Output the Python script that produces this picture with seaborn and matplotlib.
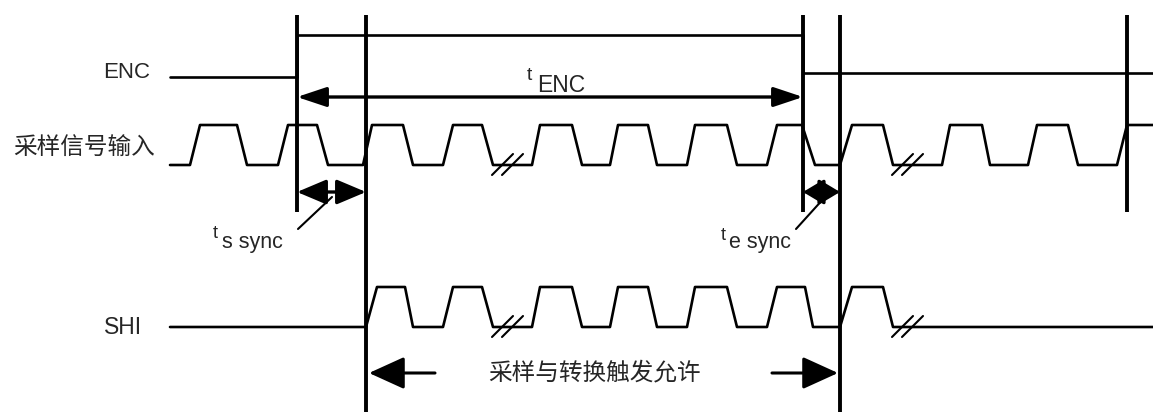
import numpy as np
import pandas as pd
import seaborn as sns
import matplotlib.pyplot as plt

# waveform vertices (time in px along the diagram, level 0 = low, 1 = high)
enc_t = [170, 297, 297, 803, 803, 1153]
enc_lv = [0, 0, 1, 1, 0.1, 0.1]

sample_t = [170, 190, 200, 237, 247, 278, 288, 317, 328, 363, 372, 403, 413,
            443, 453, 482, 493, 532, 540, 572, 582, 610, 618, 648, 657,
            687, 695, 727, 737, 767, 777, 802, 815, 840, 852, 883, 893,
            942, 950, 982, 990, 1028, 1037, 1068, 1078, 1117, 1127, 1153]
sample_lv = [0, 0, 1, 1, 0, 0, 1, 1, 0, 0, 1, 1, 0,
             0, 1, 1, 0, 0, 1, 1, 0, 0, 1, 1, 0,
             0, 1, 1, 0, 0, 1, 1, 0, 0, 1, 1, 0,
             0, 1, 1, 0, 0, 1, 1, 0, 0, 1, 1]

shi_t = [170, 366, 377, 405, 413, 443, 453, 482, 493, 532, 540, 572, 582,
         610, 618, 648, 657, 687, 695, 727, 737, 767, 777, 805, 813,
         840, 852, 883, 893, 1153]
shi_lv = [0, 0, 1, 1, 0, 0, 1, 1, 0, 0, 1, 1, 0,
          0, 1, 1, 0, 0, 1, 1, 0, 0, 1, 1, 0,
          0, 1, 1, 0, 0]

break_t = [493, 893]                   # "//" breaks on the clock rows
marker_t = [297, 366, 803, 840, 1127]  # vertical timing markers
marker_long = [False, True, False, True, False]

row_names = ['ENC', '采样信号输入', 'SHI']

sns.set_style('white')
plt.rcParams['font.family'] = ['Liberation Sans', 'Noto Sans CJK SC', 'DejaVu Sans']

fig = plt.figure(figsize=(11.53, 4.12), dpi=100)
ax = fig.add_axes([0, 0, 1, 1])
ax.set_xlim(0, 1153)
ax.set_ylim(412, 0)
ax.axis('off')

# row layout: (low y, high y)
rows = {'ENC': (77, 35), 'sample': (165, 125), 'SHI': (327, 287)}


def wave(t, lv, row):
    lo, hi = rows[row]
    lv = np.asarray(lv, dtype=float)
    df = pd.DataFrame({'t': t, 'y': lo + lv * (hi - lo)})
    sns.lineplot(data=df, x='t', y='y', sort=False, estimator=None,
                 color='black', lw=1.9, ax=ax)


wave(enc_t, enc_lv, 'ENC')
wave(sample_t, sample_lv, 'sample')
wave(shi_t, shi_lv, 'SHI')

# break marks
for row in ['sample', 'SHI']:
    lo = rows[row][0]
    for b in break_t:
        for dx in (0, 10):
            ax.plot([b - 1 + dx, b + 20 + dx], [lo + 10, lo - 11], color='black', lw=1.5)

# vertical markers
for x, long in zip(marker_t, marker_long):
    ax.vlines(x, 15, 412 if long else 212, color='black', lw=2.8)

# labels on the left
ax.text(150, 72, row_names[0], ha='right', va='center', fontsize=16)
ax.text(155, 148, row_names[1], ha='right', va='center', fontsize=17, fontweight='medium')
ax.text(142, 328, row_names[2], ha='right', va='center', fontsize=16.5)


def darrow(x0, x1, y, hl=0.8, hw=0.32, ms=20):
    ax.annotate('', xy=(x0, y), xytext=(x1, y),
                arrowprops=dict(arrowstyle=f'<|-|>,head_length={hl},head_width={hw}',
                                color='black', lw=2.4, shrinkA=0, shrinkB=0,
                                mutation_scale=ms))


# t_ENC
darrow(297, 803, 97, hl=0.9, hw=0.3, ms=20)
ax.text(527, 75, 't', ha='left', va='center', fontsize=14)
ax.text(537, 85, 'ENC', ha='left', va='center', fontsize=16.5)

# t_s sync / t_e sync
darrow(297, 366, 192, hl=0.9, hw=0.38, ms=20)
darrow(803, 840, 192, hl=0.75, hw=0.45, ms=17)
ax.plot([298, 332], [229, 197], color='black', lw=1.5)
ax.plot([796, 825], [229, 197], color='black', lw=1.5)
ax.text(213, 233, 't', ha='left', va='center', fontsize=13)
ax.text(222, 242, 's sync', ha='left', va='center', fontsize=15.5)
ax.text(721, 235, 't', ha='left', va='center', fontsize=13)
ax.text(729, 242, 'e sync', ha='left', va='center', fontsize=15.5)

# sampling / conversion trigger enable window
for tail, tip in [(435, 369), (772, 838)]:
    ax.annotate('', xy=(tip, 373), xytext=(tail, 373),
                arrowprops=dict(arrowstyle='-|>,head_length=1.1,head_width=0.5',
                                color='black', lw=2.2, shrinkA=0, shrinkB=0,
                                mutation_scale=20))
ax.text(594, 373, '采样与转换触发允许', ha='center', va='center', fontsize=17, fontweight='medium')

fig.savefig('out.png', dpi=100)
